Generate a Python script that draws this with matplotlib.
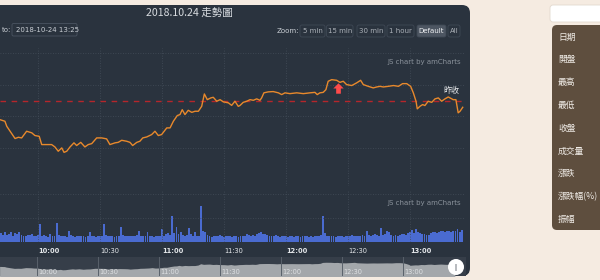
import matplotlib
matplotlib.use('Agg')
import matplotlib.pyplot as plt
from matplotlib.patches import FancyBboxPatch, Circle, Rectangle
from matplotlib.path import Path
from matplotlib.transforms import blended_transform_factory

plt.rcParams['font.family'] = ['DejaVu Sans', 'Noto Sans CJK TC']
CJK = ['Noto Sans CJK TC', 'DejaVu Sans']

# ---------------- data ----------------
title = '2018.10.24 走勢圖'
to_date = '2018-10-24 13:25'
prev_close = 10.00
prev_close_label = '昨收'

# minutes since 09:00
price_minutes = [41.6, 44.0, 44.9, 46.5, 48.9, 50.5, 52.1, 54.5, 57.0, 58.5, 60.6, 61.8, 64.2, 66.6, 68.2,
                 69.8, 71.5, 72.6, 73.9, 75.5, 77.4, 78.7, 80.7, 82.7, 84.3, 86.0, 88.4, 90.8, 93.2, 94.8,
                 97.3, 98.8, 100.5, 102.9, 104.5, 105.8, 107.8, 109.3, 110.7, 112.6, 115.0, 116.6, 118.2,
                 119.8, 122.3, 123.9, 125.5, 127.4, 128.7, 129.8, 131.1, 132.7, 134.4, 136.0, 137.6, 139.2,
                 140.5, 141.9, 143.6, 144.8, 146.5, 148.1, 149.7, 152.1, 153.7, 155.3, 156.9, 157.7, 159.3,
                 161.0, 162.6, 164.2, 165.8, 167.4, 168.2, 169.3, 171.4, 173.8, 176.3, 177.9, 179.5, 181.9,
                 185.2, 188.4, 191.6, 194.0, 195.1, 196.4, 198.0, 199.3, 200.4, 202.1, 204.5, 206.1, 207.7,
                 209.3, 211.8, 214.2, 216.1, 217.4, 219.8, 222.2, 223.9, 225.5, 227.1, 229.5, 232.0, 234.4,
                 236.4, 238.4, 240.3, 241.6, 242.9, 243.5, 244.8, 246.1, 247.2, 248.8, 250.5, 252.1, 253.7,
                 255.3, 256.9, 258.5, 260.9, 262.2, 263.3, 264.2, 265.5]
prices = [9.880, 9.870, 9.838, 9.807, 9.761, 9.769, 9.765, 9.807, 9.797, 9.780, 9.775, 9.723, 9.723, 9.723,
          9.708, 9.681, 9.702, 9.674, 9.681, 9.708, 9.734, 9.717, 9.737, 9.708, 9.723, 9.729, 9.765, 9.765,
          9.759, 9.723, 9.734, 9.737, 9.750, 9.744, 9.737, 9.717, 9.737, 9.744, 9.765, 9.771, 9.786, 9.807,
          9.780, 9.786, 9.828, 9.828, 9.870, 9.906, 9.912, 9.943, 9.912, 9.939, 9.926, 9.933, 9.933, 9.964,
          10.042, 10.006, 10.017, 10.021, 9.996, 10.006, 9.992, 9.986, 9.970, 9.996, 9.964, 9.969, 9.989,
          9.996, 10.006, 10.002, 10.011, 10.002, 10.017, 10.049, 10.055, 10.057, 10.049, 10.038, 10.049,
          10.044, 10.049, 10.044, 10.049, 10.052, 10.038, 10.049, 10.052, 10.069, 10.122, 10.132, 10.128,
          10.115, 10.122, 10.101, 10.095, 10.112, 10.128, 10.101, 10.090, 10.080, 10.086, 10.090, 10.086,
          10.090, 10.095, 10.090, 10.107, 10.107, 10.090, 10.049, 9.996, 9.948, 9.964, 9.975, 9.969, 9.996,
          9.989, 10.011, 10.017, 9.996, 10.011, 10.023, 10.006, 10.006, 9.923, 9.933, 9.958]

vol_first_minute = 42
volumes = [190, 160, 215, 150, 180, 205, 140, 195, 170, 210,
           150, 125, 135, 145, 160, 180, 140, 125, 150, 370,
           130, 160, 120, 115, 170, 140, 125, 405, 150, 130,
           120, 140, 115, 240, 160, 125, 115, 130, 120, 140,
           125, 110, 130, 220, 140, 120, 115, 130, 125, 120,
           370, 150, 140, 120, 130, 115, 125, 140, 325, 160,
           135, 125, 120, 140, 130, 125, 150, 225, 130, 120,
           140, 205, 125, 120, 115, 130, 125, 140, 270, 135,
           180, 200, 150, 540, 190, 325, 180, 215, 160, 140,
           150, 300, 170, 130, 220, 140, 125, 750, 240, 215,
           150, 130, 115, 140, 120, 125, 150, 130, 115, 120,
           140, 125, 110, 130, 120, 115, 135, 125, 140, 165,
           150, 130, 160, 140, 170, 190, 220, 180, 165, 150,
           140, 125, 130, 155, 120, 115, 140, 130, 125, 110,
           130, 120, 115, 125, 140, 110, 120, 130, 125, 115,
           120, 110, 125, 130, 140, 150, 540, 185, 140, 130,
           125, 120, 115, 130, 125, 120, 110, 140, 130, 120,
           150, 140, 125, 130, 120, 160, 140, 240, 150, 130,
           145, 170, 160, 140, 300, 160, 180, 240, 210, 150,
           140, 160, 130, 150, 180, 170, 160, 190, 210, 255,
           200, 275, 220, 190, 170, 180, 160, 150, 200, 210,
           215, 190, 220, 225, 230, 210, 240, 225, 215, 230,
           230, 275, 220, 245]
vol_minutes = [vol_first_minute + i for i in range(len(volumes))]

event_minute = 205.0
event_price = 10.08

tick_minutes = [60, 90, 120, 150, 180, 210, 240]
tick_labels = ['10:00', '10:30', '11:00', '11:30', '12:00', '12:30', '13:00']
price_grid = [9.7, 9.9, 10.1, 10.3]
vol_grid = [500, 1000]
zoom_buttons = ['5 min', '15 min', '30 min', '1 hour', 'Default', 'All']
active_button = 'Default'
info_labels = ['日期', '開盤', '最高', '最低', '收盤', '成交量', '漲跌', '漲跌幅(%)', '振幅']

# ---------------- style ----------------
PAGE = '#f5ebe1'
PANEL = '#2a333e'
GRID = '#444e5a'
TXT = '#c9ced4'
LINE = '#e8892c'
RED = '#b5262b'
BAR = '#4a6bd0'
BROWN = '#5e4e3e'

W, H = 600, 280
fig = plt.figure(figsize=(6, 2.8), dpi=100)
fig.patch.set_facecolor(PAGE)


def axes_px(x0, y0, x1, y1, **kw):
    return fig.add_axes([x0 / W, 1 - y1 / H, (x1 - x0) / W, (y1 - y0) / H], **kw)


bg = axes_px(0, 0, W, H)
bg.set_xlim(0, W)
bg.set_ylim(H, 0)
bg.axis('off')

# main dark panel
bg.add_patch(FancyBboxPatch((-20, 5), 490, 271, boxstyle='round,pad=0,rounding_size=8',
                            fc=PANEL, ec='none'))
bg.text(189, 12.5, title, ha='center', va='center', fontsize=7.6, color='#d8dce0', family=CJK)
bg.text(2, 30, 'to:', ha='left', va='center', fontsize=5, color=TXT)
bg.add_patch(FancyBboxPatch((12, 23.5), 65, 12.5, boxstyle='round,pad=0,rounding_size=1.5',
                            fc=PANEL, ec='#4a5461', lw=0.6))
bg.text(16, 30, to_date, ha='left', va='center', fontsize=5, color=TXT)

bg.text(277, 31, 'Zoom:', ha='left', va='center', fontsize=5, color=TXT)
btn_spans = [(300, 325), (326.5, 353), (357, 385), (387, 414), (417, 446), (448, 460)]
for lab, (a, b) in zip(zoom_buttons, btn_spans):
    active = lab == active_button
    bg.add_patch(FancyBboxPatch((a, 25), b - a, 12, boxstyle='round,pad=0,rounding_size=2',
                                fc='#4d5662' if active else PANEL, ec='#3f4955', lw=0.6))
    bg.text((a + b) / 2, 31, lab, ha='center', va='center', fontsize=5,
            color='#eef0f2' if active else '#aab0b7')

# scrollbar background
bg.add_patch(Rectangle((0, 257), 466, 19, fc='#363e49', ec='none'))

# right side
bg.add_patch(FancyBboxPatch((550, 5), 60, 17, boxstyle='round,pad=0,rounding_size=3',
                            fc='white', ec='#e2d9cf', lw=0.6))
bg.add_patch(FancyBboxPatch((552, 25), 60, 205, boxstyle='round,pad=0,rounding_size=5',
                            fc=BROWN, ec='none'))
for i, lab in enumerate(info_labels):
    bg.text(558, 37 + i * 22.8, lab, ha='left', va='center', fontsize=6.3,
            color='#f1ede8', family=CJK)

XMIN, XMAX = 41.62, 266.6

# ---------------- price chart ----------------
ax = axes_px(0, 48, 465, 186)
ax.set_facecolor('none')
ax.set_xlim(XMIN, XMAX)
ax.set_ylim(9.462, 10.3315)
for s in ax.spines.values():
    s.set_visible(False)
ax.set_xticks([])
ax.set_yticks([])
for v in price_grid:
    ax.axhline(v, color=GRID, lw=0.6, ls=(0, (1, 2)))
for t in tick_minutes:
    ax.axvline(t, color=GRID, lw=0.6, ls=(0, (1, 2)))
ax.axhline(prev_close, color=RED, lw=1.0, ls=(0, (4, 4)))
ax.plot(price_minutes, prices, color=LINE, lw=1.0, solid_joinstyle='round')
arrow = Path([(-1, 0), (0, 1), (1, 0), (0.45, 0), (0.45, -1), (-0.45, -1), (-0.45, 0), (-1, 0)],
             [Path.MOVETO] + [Path.LINETO] * 6 + [Path.CLOSEPOLY])
ax.plot([event_minute], [event_price], marker=arrow, markersize=7.5, color='#ff4a4a', mec='none')
ax.annotate(prev_close_label, xy=(264.0, prev_close), xytext=(0, 4), textcoords='offset points',
            ha='right', va='bottom', fontsize=5.8, color='#e6e8ea', family=CJK)
ax.text(0.992, 0.9, 'JS chart by amCharts', transform=ax.transAxes, ha='right', va='center',
        fontsize=5, color='#8a929b')

# ---------------- volume chart ----------------
vx = axes_px(0, 190, 465, 242.3)
vx.set_facecolor('none')
vx.set_xlim(XMIN, XMAX)
vx.set_ylim(0, 1077)
for s in vx.spines.values():
    s.set_visible(False)
for v in vol_grid:
    vx.axhline(v, color=GRID, lw=0.6, ls=(0, (1, 2)))
for t in tick_minutes:
    vx.axvline(t, color=GRID, lw=0.6, ls=(0, (1, 2)))
vx.bar(vol_minutes, volumes, width=0.9, color=BAR, align='center', lw=0)
vx.set_yticks([])
vx.set_xticks(tick_minutes)
vx.set_xticklabels(tick_labels)
vx.tick_params(axis='x', length=0, pad=4, labelsize=4.8, labelcolor='#e4e7ea')
for lab in vx.get_xticklabels():
    lab.set_horizontalalignment('left')
    if lab.get_text().endswith(':00'):
        lab.set_fontweight('bold')
vx.text(0.992, 0.76, 'JS chart by amCharts', transform=vx.transAxes, ha='right', va='center',
        fontsize=5, color='#8a929b')

# ---------------- scrollbar ----------------
sx = axes_px(0, 257, 463, 276)
sx.set_facecolor('none')
sx.set_xlim(41.8, 269.5)
sx.set_ylim(9.3, 10.45)
sx.axis('off')
sx.fill_between(price_minutes, prices, 9.0, color='#a3a7ab', lw=0)
tr = blended_transform_factory(sx.transData, sx.transAxes)
for t, lab in zip(tick_minutes, tick_labels):
    sx.plot([t, t], [0, 1], transform=tr, color='#59616b', lw=0.7)
    sx.text(t + 0.8, 0.22, lab, transform=tr, ha='left', va='center', fontsize=4.8,
            color='#e8eaec', alpha=0.85)

top = axes_px(0, 0, W, H)
top.set_facecolor('none')
top.set_xlim(0, W)
top.set_ylim(H, 0)
top.axis('off')
top.add_patch(Circle((456, 267), 8, fc='white', ec='none'))
top.add_patch(Rectangle((455, 263.5), 2, 7, fc='#b9bcc0', ec='none'))

fig.savefig('out.png', dpi=100, facecolor=PAGE)
